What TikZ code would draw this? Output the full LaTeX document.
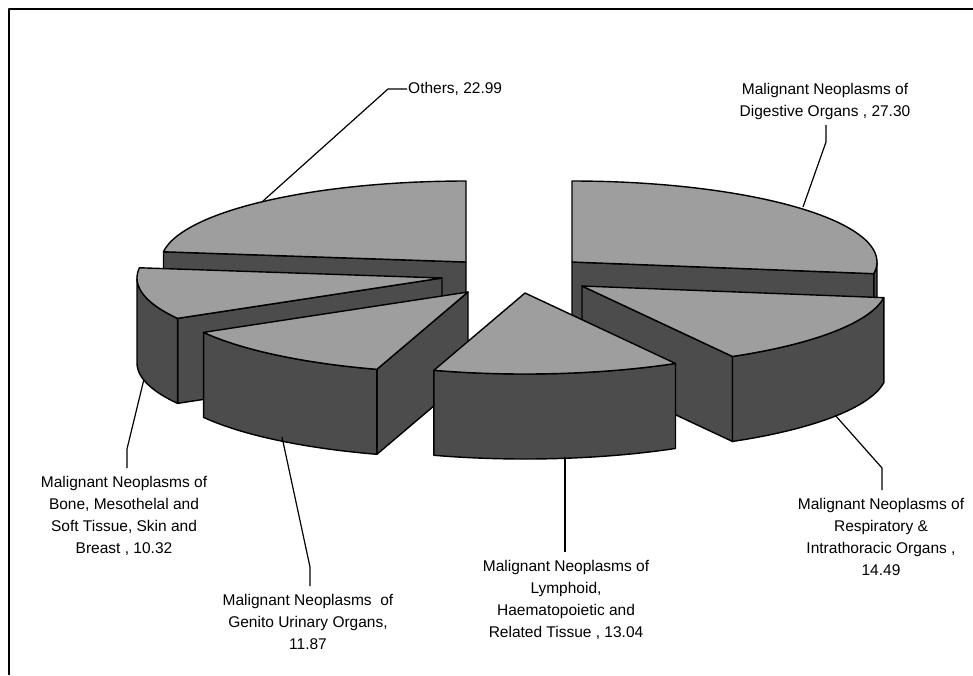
\documentclass[tikz,border=0pt]{standalone}
\usepackage{fontspec}
\setmainfont{Liberation Sans}
\definecolor{topfill}{gray}{0.62}
\definecolor{sidefill}{gray}{0.3}
\newcommand{\pierx}{305}
\newcommand{\piery}{81}
\newcommand{\piedep}{85}
\newcommand{\slicetop}[4]{\filldraw[topface] (#1,#2) -- plot[domain=#3:#4,samples=50] ({#1+\pierx*cos(\x)},{#2-\piery*sin(\x)}) -- cycle;}
\newcommand{\slicerim}[4]{\filldraw[sideface] plot[domain=#3:#4,samples=50] ({#1+\pierx*cos(\x)},{#2-\piery*sin(\x)}) -- plot[domain=#4:#3,samples=50] ({#1+\pierx*cos(\x)},{#2-\piery*sin(\x)+\piedep}) -- cycle;}
\newcommand{\sliceface}[3]{\filldraw[sideface] (#1,#2) -- ({#1+\pierx*cos(#3)},{#2-\piery*sin(#3)}) -- ++(0,\piedep) -- (#1,#2+\piedep) -- cycle;}

\begin{document}
\begin{tikzpicture}[x=1pt, y=-1pt, line join=round,
  topface/.style={fill=topfill, draw=black, line width=1.4pt},
  sideface/.style={fill=sidefill, draw=black, line width=1.4pt},
  lbl/.style={font=\fontsize{15.5}{22}\selectfont, align=center, inner xsep=0pt, inner ysep=8pt},
  leader/.style={draw=black, line width=1.2pt}]
  \useasboundingbox (0,0) rectangle (973,675);
  \draw[line width=2pt] (9,675) -- (9,8.5) -- (973,8.5);

  \sliceface{466}{262}{172.74}
  \slicetop{466}{262}{90}{172.74}

  \sliceface{572}{262}{-8.28}
  \slicerim{572}{262}{-8.28}{0}
  \slicetop{572}{262}{-8.28}{90}

  \sliceface{442}{278}{209.89}
  \slicerim{442}{278}{180}{209.89}
  \slicetop{442}{278}{172.74}{209.89}

  \sliceface{468}{292}{252.62}
  \slicerim{468}{292}{209.89}{252.62}
  \slicetop{468}{292}{209.89}{252.62}

  \sliceface{582}{286}{-60.44}
  \slicerim{582}{286}{-60.44}{-8.28}
  \slicetop{582}{286}{-60.44}{-8.28}

  \slicerim{525}{293}{-107.38}{-60.44}
  \slicetop{525}{293}{-107.38}{-60.44}

  \node[lbl, anchor=west, inner xsep=1pt, inner ysep=0pt] (lblOthers) at (407,89) {Others, 22.99};
  \node[lbl, anchor=south, inner ysep=5pt] (lblDigest) at (825,125) {Malignant Neoplasms of\\Digestive Organs , 27.30};
  \node[lbl, anchor=north] (lblResp) at (881,490) {Malignant Neoplasms of\\Respiratory \&\\Intrathoracic Organs ,\\14.49};
  \node[lbl, anchor=north] (lblLymph) at (566,552) {Malignant Neoplasms of\\Lymphoid,\\Haematopoietic and\\Related Tissue , 13.04};
  \node[lbl, anchor=north] (lblGenito) at (308,586) {Malignant Neoplasms\ \ of\\Genito Urinary Organs,\\11.87};
  \node[lbl, anchor=north] (lblBone) at (124,468) {Malignant Neoplasms of\\Bone, Mesothelal and\\Soft Tissue, Skin and\\Breast , 10.32};

  \coordinate (tipOthers) at (263,201);
  \coordinate (bendOthers) at (388,89);
  \coordinate (tipDigest) at (803,207);
  \coordinate (bendDigest) at (826,142);
  \coordinate (tipResp) at (835,415);
  \coordinate (bendResp) at (882,468);
  \coordinate (tipLymph) at (565,457);
  \coordinate (tipGenito) at (282,437);
  \coordinate (bendGenito) at (310,567);
  \coordinate (tipBone) at (144,379);
  \coordinate (bendBone) at (127,449);

  \draw[leader] (tipOthers) -- (bendOthers) -- (lblOthers.west);
  \draw[leader] (tipDigest) -- (bendDigest) -- (bendDigest |- lblDigest.south);
  \draw[leader] (tipResp) -- (bendResp) -- (bendResp |- lblResp.north);
  \draw[leader] (tipLymph) -- (tipLymph |- lblLymph.north);
  \draw[leader] (tipGenito) -- (bendGenito) -- (bendGenito |- lblGenito.north);
  \draw[leader] (tipBone) -- (bendBone) -- (bendBone |- lblBone.north);
\end{tikzpicture}
\end{document}
